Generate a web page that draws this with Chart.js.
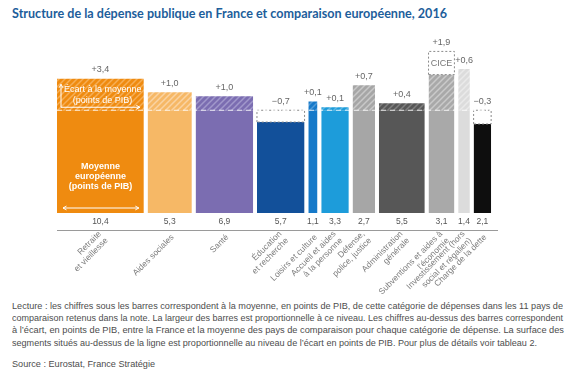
<!DOCTYPE html>
<html><head><meta charset="utf-8">
<script src="https://cdn.jsdelivr.net/npm/chart.js@4.4.0/dist/chart.umd.min.js"></script>
<style>
html,body{margin:0;padding:0;background:#fff;width:580px;height:375px;overflow:hidden;}
#title{position:absolute;left:12px;top:5px;font:bold 13px Lato,"Open Sans",sans-serif;color:#1D5E9B;white-space:nowrap;transform-origin:0 50%;}
#wrap{position:absolute;left:0;top:0;width:580px;height:300px;}
#caption{position:absolute;left:12px;top:300px;font:9px "Liberation Sans",Arial,sans-serif;color:#4d4d4d;}
#caption div{white-space:nowrap;height:12.2px;line-height:12.2px;transform-origin:0 50%;}
#source{position:absolute;left:12px;top:358px;font:9px "Liberation Sans",Arial,sans-serif;color:#4d4d4d;white-space:nowrap;line-height:12px;transform-origin:0 50%;}
</style></head>
<body>
<div id="title" data-w="435">Structure de la dépense publique en France et comparaison européenne, 2016</div>
<div id="wrap"><canvas id="c" width="580" height="300"></canvas></div>
<div id="caption">
<div data-w="551">Lecture : les chiffres sous les barres correspondent à la moyenne, en points de PIB, de cette catégorie de dépenses dans les 11 pays de</div>
<div data-w="551">comparaison retenus dans la note. La largeur des barres est proportionnelle à ce niveau. Les chiffres au-dessus des barres correspondent</div>
<div data-w="552">à l’écart, en points de PIB, entre la France et la moyenne des pays de comparaison pour chaque catégorie de dépense. La surface des</div>
<div data-w="525">segments situés au-dessus de la ligne est proportionnelle au niveau de l’écart en points de PIB. Pour plus de détails voir tableau 2.</div>
</div>
<div id="source" data-w="143">Source : Eurostat, France Stratégie</div>
<script>
// ---- data ----
const categories = [["Retraite","et vieillesse"],"Aides sociales","Santé",["Éducation","et recherche"],"Loisirs et culture",["Accueil et aides","à la personne"],["Défense,","police, justice"],["Administration","générale"],["Subventions et aides à","l’économie"],["Investissement (hors","social et régalien)"],"Charge de la dette"];
const europeanAverage = [10.4,5.3,6.9,5.7,1.1,3.3,2.7,5.5,3.1,1.4,2.1];
const gapFrance = [3.4,1.0,1.0,-0.7,0.1,0.1,0.7,0.4,1.9,0.6,-0.3];
const ciceGap = [0,0,0,0,0,0,0,0,0.75,0,0];
const averageLabels = ["10,4","5,3","6,9","5,7","1,1","3,3","2,7","5,5","3,1","1,4","2,1"];
const gapLabels = ["+3,4","+1,0","+1,0","\u22120,7","+0,1","+0,1","+0,7","+0,4","+1,9","+0,6","\u22120,3"];

// ---- styles ----
const baseColors  = ["#EF8B10","#F6B866","#7B6DB1","#12509A","#1679C9","#1D9CDA","#A6A6A6","#575757","#A9A9A9","#DCDCDC","#0E0E0E"];
const hatchColors = ["#F6AE55","#FAD3A2","#A198CB","#12509A","#4F9BDA","#5AB7E4","#C8C8C8","#808080","#CACACA","#EAEAEA","#0E0E0E"];
const BAR_GAP = 0.45, BASE = 1.07, X_MAX = 52.7, Y_MIN = -0.177, Y_MAX = 2.01;

// layout in data units
const x0 = [], x1 = [], centers = [];
let acc = 0;
europeanAverage.forEach((w,i)=>{ x0.push(acc); x1.push(acc+w); centers.push(acc+w/2); acc += w + BAR_GAP; });
const xEnd = x1[x1.length-1];

const cv = document.getElementById('c');
const ctx0 = cv.getContext('2d');
function hatch(base, line){
  const c = document.createElement('canvas'); c.width = 6; c.height = 6;
  const g = c.getContext('2d');
  g.fillStyle = base; g.fillRect(0,0,6,6);
  g.strokeStyle = line; g.lineWidth = 1.5;
  g.beginPath();
  g.moveTo(0,6); g.lineTo(6,0);
  g.moveTo(-3,3); g.lineTo(3,-3);
  g.moveTo(3,9); g.lineTo(9,3);
  g.stroke();
  return ctx0.createPattern(c,'repeat');
}

const datasets = [];
const common = {type:'line', pointRadius:0, pointHoverRadius:0, tension:0, borderWidth:0};
europeanAverage.forEach((avg,i)=>{
  const gap = gapFrance[i];
  const solidTop = gap >= 0 ? BASE : BASE + gap/avg;
  datasets.push({...common, order:3, data:[{x:x0[i],y:solidTop},{x:x1[i],y:solidTop}], fill:'origin', backgroundColor:baseColors[i], borderColor:'rgba(0,0,0,0)'});
  if (gap > 0) {
    const hatchTop = BASE + (gap - ciceGap[i])/avg;
    datasets.push({...common, order:2, data:[{x:x0[i],y:hatchTop},{x:x1[i],y:hatchTop}], fill:{value:BASE}, backgroundColor:hatch(baseColors[i],hatchColors[i]), borderColor:'rgba(0,0,0,0)'});
    if (ciceGap[i] > 0) {
      const top = BASE + gap/avg;
      datasets.push({...common, order:1, data:[{x:x0[i],y:hatchTop},{x:x0[i],y:top},{x:x1[i],y:top},{x:x1[i],y:hatchTop},{x:x0[i],y:hatchTop}], fill:false, borderWidth:1, borderColor:'#8a8a8a', borderDash:[2,2]});
    }
  } else if (gap < 0) {
    datasets.push({...common, order:1, data:[{x:x0[i],y:solidTop},{x:x0[i],y:BASE},{x:x1[i],y:BASE},{x:x1[i],y:solidTop},{x:x0[i],y:solidTop}], fill:false, borderWidth:1, borderColor:'#8a8a8a', borderDash:[2,2]});
  }
});
datasets.push({...common, order:0, data:[{x:0,y:BASE},{x:xEnd,y:BASE}], fill:false, borderWidth:1, borderColor:'rgba(255,255,255,0.8)', borderDash:[5,4]});

function arrow(ctx, xa, ya, xb, yb, both){
  const a = Math.atan2(yb-ya, xb-xa), L = 4;
  ctx.beginPath(); ctx.moveTo(xa,ya); ctx.lineTo(xb,yb);
  ctx.moveTo(xb - L*Math.cos(a-0.5), yb - L*Math.sin(a-0.5)); ctx.lineTo(xb,yb); ctx.lineTo(xb - L*Math.cos(a+0.5), yb - L*Math.sin(a+0.5));
  if (both) { ctx.moveTo(xa + L*Math.cos(a-0.5), ya + L*Math.sin(a-0.5)); ctx.lineTo(xa,ya); ctx.lineTo(xa + L*Math.cos(a+0.5), ya + L*Math.sin(a+0.5)); }
  ctx.stroke();
}

const labelPlugin = {
  id:'labels',
  afterDatasetsDraw(chart){
    const ctx = chart.ctx, xs = chart.scales.x, ys = chart.scales.y;
    ctx.save();
    ctx.textAlign = 'center'; ctx.textBaseline = 'middle';
    const y0 = ys.getPixelForValue(0);
    europeanAverage.forEach((avg,i)=>{
      const cx = xs.getPixelForValue(centers[i]);
      ctx.font = '8.5px "Liberation Sans", Arial, sans-serif';
      ctx.fillStyle = '#555';
      ctx.fillText(averageLabels[i], cx, y0 + 9);
      const topVal = gapFrance[i] > 0 ? BASE + gapFrance[i]/avg : BASE;
      ctx.font = '9px "Liberation Sans", Arial, sans-serif';
      ctx.fillStyle = '#666';
      ctx.fillText(gapLabels[i], cx, ys.getPixelForValue(topVal) - 9);
      if (ciceGap[i] > 0) {
        ctx.fillStyle = '#777';
        const mid = (ys.getPixelForValue(BASE + gapFrance[i]/avg) + ys.getPixelForValue(BASE + (gapFrance[i]-ciceGap[i])/avg))/2;
        ctx.fillText('CICE', cx, mid);
      }
    });
    // category labels along the x axis, rotated 45°
    const axisY = xs.top;
    ctx.font = '8.5px "Liberation Sans", Arial, sans-serif';
    ctx.fillStyle = '#7e7e7e';
    ctx.textAlign = 'right';
    const LH = 9.5;
    categories.forEach((lab,i)=>{
      const lines = Array.isArray(lab) ? lab : [lab];
      ctx.save();
      ctx.translate(xs.getPixelForValue(centers[i]) + 3, axisY + 6);
      ctx.rotate(-Math.PI/4);
      lines.forEach((t,k)=> ctx.fillText(t, 0, (k - (lines.length-1)/2) * LH));
      ctx.restore();
    });
    // annotations inside first bar
    const bx0 = xs.getPixelForValue(x0[0]), bx1 = xs.getPixelForValue(x1[0]);
    const yB = ys.getPixelForValue(BASE), bc = (bx0+bx1)/2;
    ctx.strokeStyle = '#fff'; ctx.fillStyle = '#fff'; ctx.lineWidth = 1;
    arrow(ctx, bx0+4, yB-3, bx0+4, yB-26, false);
    arrow(ctx, bx0+4, yB-3, bx1-4, yB-3, false);
    ctx.textAlign = 'left';
    ctx.font = '9px "Liberation Sans", Arial, sans-serif';
    ctx.fillText('Écart à la moyenne', bx0+7, yB-21);
    ctx.textAlign = 'center';
    ctx.fillText('(points de PIB)', bc+2, yB-10);
    ctx.font = 'bold 9px "Liberation Sans", Arial, sans-serif';
    ctx.fillText('Moyenne', bc, y0-46);
    ctx.fillText('européenne', bc, y0-36);
    ctx.fillText('(points de PIB)', bc, y0-26);
    arrow(ctx, bx0+6, y0-5, bx1-5, y0-5, true);
    ctx.restore();
  }
};

new Chart(cv, {
  type:'line',
  data:{datasets},
  plugins:[labelPlugin],
  options:{
    responsive:false, animation:false, events:[],
    layout:{padding:{left:57,right:83,top:20,bottom:0}},
    plugins:{legend:{display:false}, tooltip:{enabled:false}, filler:{propagate:false}},
    scales:{
      x:{type:'linear', min:0, max:X_MAX,
        grid:{display:false, drawTicks:false},
        border:{display:true, color:'#9a9a9a', width:1},
        afterBuildTicks:(s)=>{ s.ticks = centers.map(v=>({value:v})); },
        afterFit:(s)=>{ s.height = 70; },
        ticks:{display:false}
      },
      y:{type:'linear', display:false, min:Y_MIN, max:Y_MAX}
    }
  }
});

function fit(){
  document.querySelectorAll('[data-w]').forEach(el=>{
    el.style.transform = 'none';
    el.style.display = 'inline-block';
    const w = el.getBoundingClientRect().width;
    if (el.parentElement.id === 'caption') el.style.display = 'block';
    el.style.width = 'max-content';
    el.style.transform = 'scaleX(' + (parseFloat(el.dataset.w) / w) + ')';
  });
}
fit();
if (document.fonts && document.fonts.ready) document.fonts.ready.then(fit);
</script>
</body></html>
